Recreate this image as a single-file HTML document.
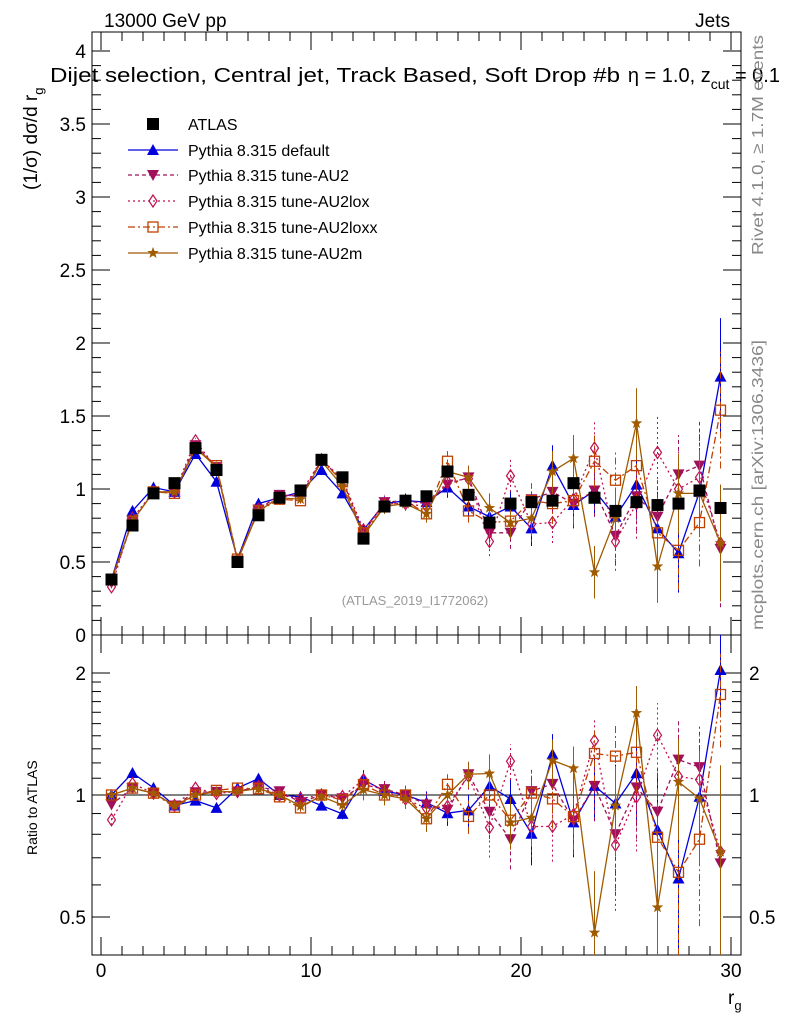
<!DOCTYPE html>
<html><head><meta charset="utf-8"><style>
body{margin:0;background:#fff;}
svg{font-family:"Liberation Sans",sans-serif;}
</style></head><body>
<svg id="c" width="786" height="1024" xmlns="http://www.w3.org/2000/svg">
<text x="104" y="27" font-size="19">13000 GeV pp</text>
<text x="730" y="27" font-size="19" text-anchor="end">Jets</text>
<text x="50" y="82" font-size="20" textLength="570" lengthAdjust="spacingAndGlyphs">Dijet selection, Central jet, Track Based, Soft Drop #b</text>
<text x="780" y="82" font-size="20" text-anchor="end">η = 1.0, z<tspan font-size="14" dy="7">cut</tspan><tspan dy="-7"> = 0.1</tspan></text>
<text transform="translate(37,190) rotate(-90)" font-size="19">(1/σ) dσ/d r<tspan font-size="13" dy="6">g</tspan></text>
<text transform="translate(37,855) rotate(-90)" font-size="14">Ratio to ATLAS</text>
<text transform="translate(763,255) rotate(-90)" font-size="16" fill="#888" textLength="220" lengthAdjust="spacingAndGlyphs">Rivet 4.1.0, ≥ 1.7M events</text>
<text transform="translate(763,630) rotate(-90)" font-size="16" fill="#888" textLength="290" lengthAdjust="spacingAndGlyphs">mcplots.cern.ch [arXiv:1306.3436]</text>
<text x="415" y="605" font-size="13" fill="#999" text-anchor="middle">(ATLAS_2019_I1772062)</text>
<text x="728" y="1004" font-size="19">r<tspan font-size="13" dy="6">g</tspan></text>
<g id="axes"></g><g id="series"></g><g id="legend"></g>
</svg>
<script>
const bins=[0.5,1.5,2.5,3.5,4.5,5.5,6.5,7.5,8.5,9.5,10.5,11.5,12.5,13.5,14.5,15.5,16.5,17.5,18.5,19.5,20.5,21.5,22.5,23.5,24.5,25.5,26.5,27.5,28.5,29.5];
const atlas=[0.38,0.75,0.97,1.04,1.28,1.13,0.50,0.82,0.94,0.99,1.20,1.08,0.66,0.88,0.92,0.95,1.12,0.96,0.77,0.90,0.91,0.92,1.04,0.94,0.85,0.91,0.89,0.90,0.99,0.87];
const pyDefault=[0.38,0.85,1.01,0.98,1.24,1.05,0.52,0.90,0.94,0.98,1.13,0.97,0.72,0.90,0.92,0.91,1.01,0.88,0.81,0.88,0.73,1.16,0.89,0.99,0.81,1.03,0.73,0.56,0.98,1.77];
const pyAU2=[0.36,0.78,0.98,0.98,1.30,1.15,0.51,0.86,0.96,0.95,1.20,1.06,0.70,0.91,0.92,0.90,1.03,1.08,0.70,0.70,0.93,0.98,0.90,0.99,0.68,0.95,0.81,1.10,1.16,0.59];
const pyAU2lox=[0.33,0.80,0.98,0.98,1.33,1.14,0.51,0.86,0.94,0.97,1.20,1.07,0.72,0.90,0.90,0.88,1.05,1.07,0.64,1.09,0.76,0.77,0.93,1.28,0.64,0.90,1.25,1.00,1.08,0.63];
const pyAU2loxx=[0.38,0.78,0.98,0.97,1.28,1.16,0.52,0.85,0.93,0.92,1.20,1.05,0.70,0.88,0.92,0.83,1.19,0.85,0.77,0.78,0.92,0.90,0.92,1.19,1.06,1.16,0.70,0.58,0.77,1.54];
const pyAU2m=[0.38,0.78,0.98,0.98,1.28,1.15,0.51,0.85,0.94,0.93,1.19,1.02,0.68,0.88,0.90,0.83,1.12,1.08,0.87,0.77,0.80,1.12,1.21,0.43,0.80,1.45,0.47,0.97,0.97,0.63];
const mcErr=[0.01,0.01,0.01,0.01,0.02,0.02,0.01,0.02,0.02,0.02,0.03,0.03,0.04,0.05,0.05,0.06,0.07,0.08,0.10,0.11,0.12,0.14,0.16,0.18,0.20,0.24,0.25,0.27,0.30,0.40];
const yTicksTop=[0,0.5,1,1.5,2,2.5,3,3.5,4];
const yTicksRatio=[0.5,1,2];
const xTicks=[0,10,20,30];
const seriesNames=["ATLAS","Pythia 8.315 default","Pythia 8.315 tune-AU2","Pythia 8.315 tune-AU2lox","Pythia 8.315 tune-AU2loxx","Pythia 8.315 tune-AU2m"];

const NS="http://www.w3.org/2000/svg";
const L=92,R=741,T1=32,B1=635,T2=635,B2=955;
const sx=v=>101+21*v;
const sy=v=>635-146*v;
const sr=v=>795-122*Math.log2(v);
function mk(tag,attrs,parent){const e=document.createElementNS(NS,tag);for(const k in attrs)e.setAttribute(k,attrs[k]);parent.appendChild(e);return e;}
const ax=document.getElementById('axes');
const S=document.getElementById('series');
let f1=mk('rect',{x:L,y:T1,width:R-L,height:B1-T1,fill:'none',stroke:'#000','stroke-width':1},ax);


let f2=mk('rect',{x:L,y:T2,width:R-L,height:B2-T2,fill:'none',stroke:'#000','stroke-width':1},ax);


for(let v=0;v<=4.001;v+=0.1){const y=sy(v);if(y<T1)continue;const major=Math.abs(v*2-Math.round(v*2))<1e-6;const len=major?18:9;
mk('line',{x1:L,x2:L+len,y1:y,y2:y,stroke:'#000'},ax);mk('line',{x1:R,x2:R-len,y1:y,y2:y,stroke:'#000'},ax);}
yTicksTop.forEach(v=>{const t=mk('text',{x:L-6,y:sy(v)+7,'font-size':19,'text-anchor':'end'},ax);t.textContent=String(v);

});
[0.4,0.5,0.6,0.7,0.8,0.9,1,1.1,1.2,1.3,1.4,1.5,1.6,1.7,1.8,1.9,2].forEach(v=>{const y=sr(v);if(y>B2||y<T2)return;const major=yTicksRatio.includes(v);const len=major?18:9;
mk('line',{x1:L,x2:L+len,y1:y,y2:y,stroke:'#000'},ax);mk('line',{x1:R,x2:R-len,y1:y,y2:y,stroke:'#000'},ax);});
yTicksRatio.forEach(v=>{const t=mk('text',{x:L-6,y:sr(v)+7,'font-size':19,'text-anchor':'end'},ax);t.textContent=String(v);


const t2=mk('text',{x:R+8,y:sr(v)+7,'font-size':19},ax);t2.textContent=String(v);

});
mk('line',{x1:L,x2:R,y1:sr(1),y2:sr(1),stroke:'#000'},ax);
for(let v=0;v<=30;v++){const x=sx(v);const major=v%10===0;const len=major?18:9;
[[B1,-1],[B2,-1],[T1,1],[T2,1]].forEach(([y,d])=>mk('line',{x1:x,x2:x,y1:y,y2:y+d*len,stroke:'#000'},ax));}
xTicks.forEach(v=>{const t=mk('text',{x:sx(v),y:977,'font-size':19,'text-anchor':'middle'},ax);t.textContent=String(v);

});

const styles=[
 {c:'#0000dd',dash:'',m:'tri',vals:pyDefault,name:'default'},
 {c:'#a0105a',dash:'4,3',m:'dtri',vals:pyAU2,name:'au2'},
 {c:'#c01050',dash:'2,3',m:'dia',vals:pyAU2lox,name:'au2lox'},
 {c:'#c04000',dash:'7,3,2,3',m:'sq',vals:pyAU2loxx,name:'au2loxx'},
 {c:'#a05a00',dash:'',m:'star',vals:pyAU2m,name:'au2m'}];
function marker(type,x,y,c,g){
 if(type==='tri')return mk('polygon',{points:`${x},${y-6} ${x-6},${y+5} ${x+6},${y+5}`,fill:c},g);
 if(type==='dtri')return mk('polygon',{points:`${x},${y+6} ${x-6},${y-5} ${x+6},${y-5}`,fill:c},g);
 if(type==='dia')return mk('polygon',{points:`${x},${y-6} ${x-4},${y} ${x},${y+6} ${x+4},${y}`,fill:'none',stroke:c,'stroke-width':1.2},g);
 if(type==='sq')return mk('rect',{x:x-5,y:y-5,width:10,height:10,fill:'none',stroke:c,'stroke-width':1.3},g);
 if(type==='star'){let p=[];for(let i=0;i<10;i++){const r=i%2?2.5:6,a=-Math.PI/2+i*Math.PI/5;p.push((x+r*Math.cos(a)).toFixed(1)+','+(y+r*Math.sin(a)).toFixed(1));}return mk('polygon',{points:p.join(' '),fill:c},g);}
 if(type==='box')return mk('rect',{x:x-6,y:y-6,width:12,height:12,fill:'#000'},g);
}
const clipR=v=>Math.min(B2,Math.max(T2,v));
styles.forEach(s=>{
 const g=mk('g',{},S);
 
 
 const pts=bins.map((b,i)=>sx(b)+','+sy(s.vals[i])).join(' ');
 mk('polyline',{points:pts,fill:'none',stroke:s.c,'stroke-width':1.3,'stroke-dasharray':s.dash},g);
 const rpts=bins.map((b,i)=>sx(b)+','+clipR(sr(s.vals[i]/atlas[i]))).join(' ');
 mk('polyline',{points:rpts,fill:'none',stroke:s.c,'stroke-width':1.3,'stroke-dasharray':s.dash},g);
 bins.forEach((b,i)=>{const x=sx(b),v=s.vals[i];
  const e1=mcErr[i];
  mk('line',{x1:x,x2:x,y1:sy(v-e1),y2:sy(v+e1),stroke:s.c,'stroke-dasharray':s.dash},g);
  const r=v/atlas[i],re=e1/atlas[i];
  mk('line',{x1:x,x2:x,y1:clipR(sr(Math.max(0.3,r-re))),y2:clipR(sr(r+re)),stroke:s.c,'stroke-dasharray':s.dash},g);
  const m=marker(s.m,x,sy(v),s.c,g);
  
  
  const ry=sr(r);if(ry>T2&&ry<B2){const m2=marker(s.m,x,ry,s.c,g);
  
  }
 });
});
const gd=mk('g',{},S);


bins.forEach((b,i)=>{const m=marker('box',sx(b),sy(atlas[i]),'#000',gd);

});
const lg=document.getElementById('legend');
const legY=[124,150,175,201,227,253];
seriesNames.forEach((n,i)=>{const g=mk('g',{},lg);
 
 
 const y=legY[i];
 if(i===0){marker('box',153,y,'#000',g);}
 else{const s=styles[i-1];mk('line',{x1:128,x2:178,y1:y,y2:y,stroke:s.c,'stroke-width':1.3,'stroke-dasharray':s.dash},g);marker(s.m,153,y,s.c,g);}
 const t=mk('text',{x:188,y:y+6,'font-size':16},g);t.textContent=n;});
</script>
</body></html>
